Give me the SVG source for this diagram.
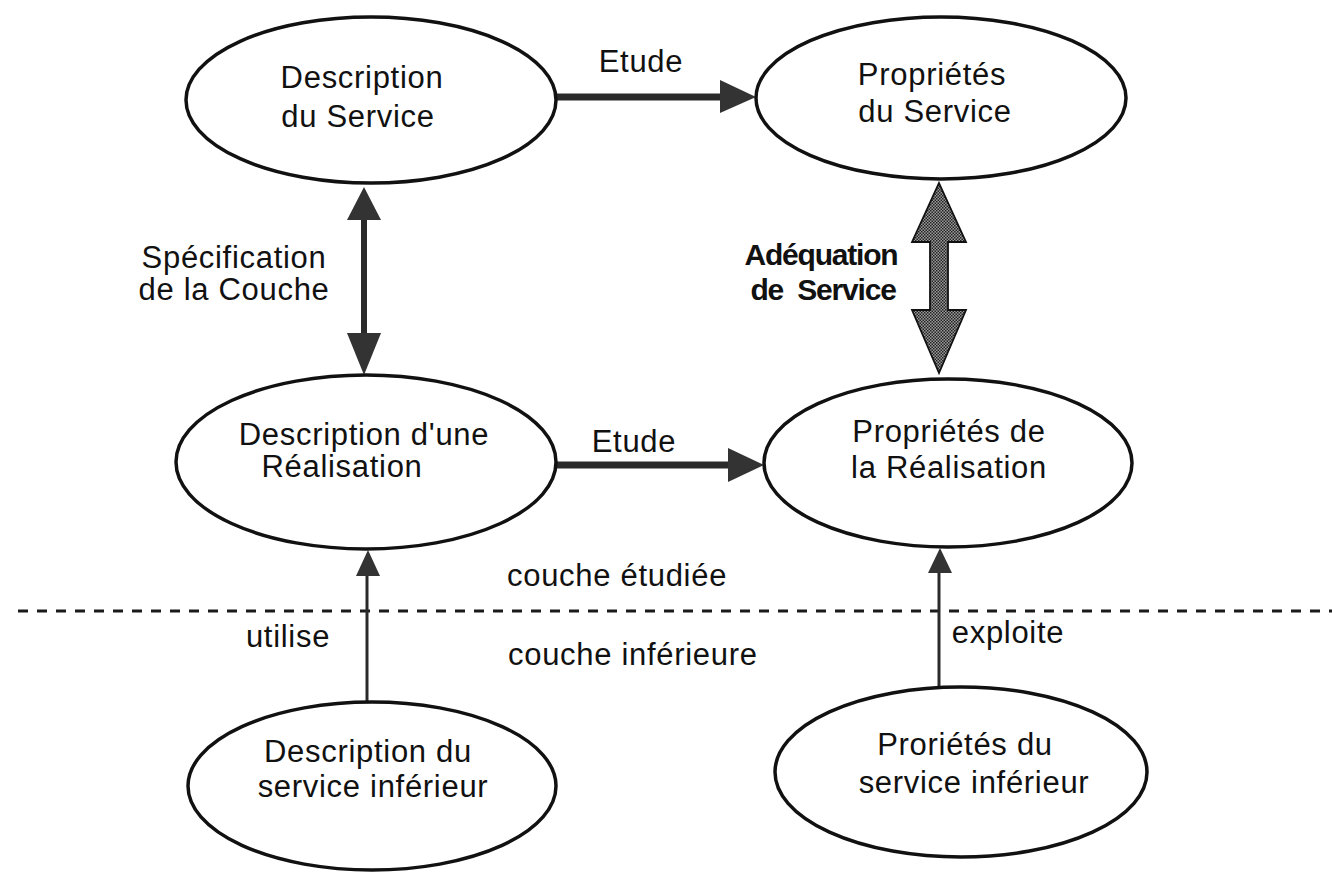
<svg xmlns="http://www.w3.org/2000/svg" width="1332" height="874" viewBox="0 0 1332 874">
<style>
.node ellipse{fill:#fff;stroke:#111;stroke-width:3.5}
text{font-family:"Liberation Sans",Arial,sans-serif;font-size:31px;letter-spacing:0.7px;fill:#111;text-anchor:middle}
.b{font-weight:bold;font-size:30px;letter-spacing:-1.2px}
.l{text-anchor:start}
.shaft{stroke:#2a2a2a;fill:none}
.head{fill:#333}
</style>
<defs>
<pattern id="ht" width="3" height="3" patternUnits="userSpaceOnUse">
<rect width="3" height="3" fill="#9a9a9a"/>
<rect width="1.5" height="1.5" fill="#222"/>
<rect x="1.5" y="1.5" width="1.5" height="1.5" fill="#222"/>
</pattern>
</defs>
<rect width="1332" height="874" fill="#fff"/>

<g id="layer-line">
<line x1="18" y1="611" x2="1332" y2="611" stroke="#1a1a1a" stroke-width="3.2" stroke-dasharray="10 9"/>
</g>

<g id="connectors">
<line class="shaft" x1="557" y1="97" x2="722" y2="97" stroke-width="7"/>
<polygon class="head" points="720,80 756,97 720,113"/>
<line class="shaft" x1="556" y1="465" x2="730" y2="465" stroke-width="7"/>
<polygon class="head" points="728,448 764,465 728,482"/>
<line class="shaft" x1="364" y1="218" x2="364" y2="335" stroke-width="6"/>
<polygon class="head" points="347,220 364,187 381,220"/>
<polygon class="head" points="347,333 364,375 381,333"/>
<polygon points="939,183 966,242 948,242 948,310 966,310 939,373 912,310 930,310 930,242 912,242" fill="url(#ht)" stroke="#111" stroke-width="1.8"/>
<line class="shaft" x1="367" y1="702" x2="367" y2="572" stroke-width="3"/>
<polygon class="head" points="356,576 368,550 380,576"/>
<line class="shaft" x1="939" y1="687" x2="939" y2="570" stroke-width="3"/>
<polygon class="head" points="928,573 940,548 952,573"/>
</g>

<g id="desc-service" class="node">
<ellipse cx="371" cy="100" rx="185" ry="83"/>
<text x="362" y="88">Description</text>
<text x="358" y="127">du Service</text>
</g>
<g id="prop-service" class="node">
<ellipse cx="941" cy="98" rx="185" ry="81"/>
<text x="932" y="85">Propriétés</text>
<text x="935" y="122">du Service</text>
</g>
<g id="desc-realisation" class="node">
<ellipse cx="366" cy="462" rx="190" ry="87"/>
<text x="364" y="445">Description d'une</text>
<text x="342" y="477">Réalisation</text>
</g>
<g id="prop-realisation" class="node">
<ellipse cx="948" cy="463" rx="184" ry="84"/>
<text x="949" y="442">Propriétés de</text>
<text x="949" y="478">la Réalisation</text>
</g>
<g id="desc-inferieur" class="node">
<ellipse cx="372" cy="786" rx="184" ry="84"/>
<text x="368" y="762">Description du</text>
<text x="373" y="797">service inférieur</text>
</g>
<g id="prop-inferieur" class="node">
<ellipse cx="961" cy="772" rx="186" ry="85"/>
<text x="965" y="755">Proriétés du</text>
<text x="974" y="793">service inférieur</text>
</g>

<g id="labels">
<text x="641" y="72">Etude</text>
<text x="634" y="452">Etude</text>
<text x="234" y="268">Spécification</text>
<text x="234" y="300">de la Couche</text>
<text class="b" x="821" y="265">Adéquation</text>
<text class="b" x="823" y="300" xml:space="preserve">de  Service</text>
<text class="l" x="507" y="586">couche étudiée</text>
<text x="288" y="647">utilise</text>
<text class="l" x="508" y="665">couche inférieure</text>
<text x="1008" y="643">exploite</text>
</g>
</svg>
